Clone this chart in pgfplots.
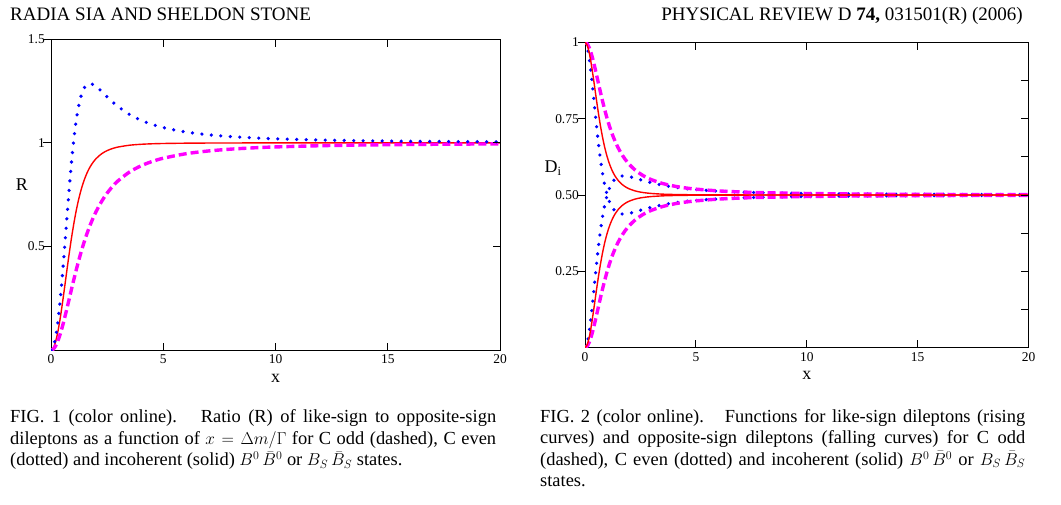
\documentclass[border=0pt]{standalone}
\usepackage{fontspec}
\setmainfont{Liberation Serif}
\usepackage{pgfplots}
\pgfplotsset{compat=1.18}
\usepackage{pgfplotstable}

\definecolor{cRed}{RGB}{255,0,0}
\definecolor{cMag}{RGB}{255,0,255}
\definecolor{cBlue}{RGB}{0,0,255}

% x, R (incoherent, C even, C odd), like-sign fraction (rising) and opposite-sign fraction (falling)
\pgfplotstableread{
x    RA     RB     RC     A      FA     B      FB     C      FC
0    0      0      0      0      1      0      1      0      1
0.1  0.0100 0.0150 0.0050 0.0099 0.9901 0.0148 0.9852 0.0050 0.9950
0.2  0.0392 0.0596 0.0196 0.0377 0.9623 0.0562 0.9438 0.0192 0.9808
0.3  0.0860 0.1325 0.0431 0.0792 0.9208 0.1170 0.8830 0.0413 0.9587
0.4  0.1473 0.2313 0.0741 0.1284 0.8716 0.1879 0.8121 0.0690 0.9310
0.5  0.2195 0.3514 0.1111 0.1800 0.8200 0.2600 0.7400 0.1000 0.9000
0.6  0.2981 0.4859 0.1525 0.2297 0.7703 0.3270 0.6730 0.1324 0.8676
0.7  0.3789 0.6264 0.1968 0.2748 0.7252 0.3851 0.6149 0.1644 0.8356
0.8  0.4579 0.7639 0.2424 0.3141 0.6859 0.4331 0.5669 0.1951 0.8049
0.9  0.5323 0.8904 0.2883 0.3474 0.6526 0.4710 0.5290 0.2238 0.7762
1.0  0.6000 1.0000 0.3333 0.3750 0.6250 0.5000 0.5000 0.2500 0.7500
1.1  0.6601 1.0899 0.3769 0.3976 0.6024 0.5215 0.4785 0.2738 0.7262
1.2  0.7124 1.1596 0.4186 0.4160 0.5840 0.5369 0.4631 0.2951 0.7049
1.3  0.7572 1.2108 0.4580 0.4309 0.5691 0.5477 0.4523 0.3141 0.6859
1.4  0.7951 1.2461 0.4949 0.4429 0.5571 0.5548 0.4452 0.3311 0.6689
1.5  0.8270 1.2685 0.5294 0.4527 0.5473 0.5592 0.4408 0.3462 0.6538
1.6  0.8537 1.2807 0.5614 0.4605 0.5395 0.5615 0.4385 0.3596 0.6404
1.7  0.8760 1.2855 0.5910 0.4670 0.5330 0.5624 0.4376 0.3715 0.6285
1.8  0.8946 1.2847 0.6183 0.4722 0.5278 0.5623 0.4377 0.3821 0.6179
1.9  0.9101 1.2800 0.6435 0.4765 0.5235 0.5614 0.4386 0.3915 0.6085
2.0  0.9231 1.2727 0.6667 0.4800 0.5200 0.5600 0.4400 0.4000 0.6000
2.2  0.9430 1.2538 0.7076 0.4853 0.5147 0.5563 0.4437 0.4144 0.5856
2.4  0.9572 1.2326 0.7423 0.4891 0.5109 0.5521 0.4479 0.4260 0.5740
2.6  0.9673 1.2115 0.7717 0.4917 0.5083 0.5478 0.4522 0.4356 0.5644
2.8  0.9747 1.1919 0.7967 0.4936 0.5064 0.5438 0.4562 0.4434 0.5566
3.0  0.9802 1.1739 0.8182 0.4950 0.5050 0.5400 0.4600 0.4500 0.5500
3.5  0.9887 1.1369 0.8596 0.4972 0.5028 0.5320 0.4680 0.4623 0.5377
4    0.9931 1.1095 0.8889 0.4983 0.5017 0.5260 0.4740 0.4706 0.5294
4.5  0.9956 1.0891 0.9101 0.4989 0.5011 0.5213 0.4787 0.4765 0.5235
5    0.9970 1.0736 0.9259 0.4993 0.5007 0.5178 0.4822 0.4808 0.5192
6    0.9985 1.0525 0.9474 0.4996 0.5004 0.5128 0.4872 0.4865 0.5135
7    0.9992 1.0392 0.9608 0.4998 0.5002 0.5096 0.4904 0.4900 0.5100
8    0.9995 1.0303 0.9697 0.4999 0.5001 0.5075 0.4925 0.4923 0.5077
9    0.9997 1.0241 0.9759 0.4999 0.5001 0.5059 0.4941 0.4939 0.5061
10   0.9998 1.0196 0.9804 0.5000 0.5000 0.5049 0.4951 0.4950 0.5050
12   0.9999 1.0137 0.9863 0.5000 0.5000 0.5034 0.4966 0.4966 0.5034
14   1.0000 1.0101 0.9899 0.5000 0.5000 0.5025 0.4975 0.4975 0.5025
16   1.0000 1.0078 0.9922 0.5000 0.5000 0.5019 0.4981 0.4981 0.5019
18   1.0000 1.0061 0.9939 0.5000 0.5000 0.5015 0.4985 0.4985 0.5015
20   1.0000 1.0050 0.9950 0.5000 0.5000 0.5012 0.4988 0.4988 0.5012
}\datatab

\pgfplotsset{
  base/.style={
    scale only axis, anchor=south west,
    xmin=0, xmax=20, xtick={0,5,10,15,20},
    axis line style={line width=0.9bp},
    tick style={line width=0.9bp, black},
    major tick length=7.5bp,
    xtick pos=both, ytick pos=left,
    xtick align=inside, ytick align=outside,
    tick label style={font=\fontsize{13.5}{13.5}\selectfont},
    /pgf/number format/assume math mode=true,
    xticklabel style={inner sep=4.5bp},
    yticklabel style={inner sep=1.5bp, xshift=3bp},
    xlabel={x},
    xlabel style={font=\fontsize{18}{18}\selectfont, at={(axis description cs:0.5,-0.092)}, anchor=center},
    ylabel style={font=\fontsize{18}{18}\selectfont, rotate=-90, anchor=center},
  },
  rticks/.style={
    scale only axis, anchor=south west, xmin=0, xmax=20,
    axis x line=none, axis y line*=right,
    axis line style={line width=0.9bp},
    tick style={line width=0.9bp, black},
    major tick length=7.5bp,
    ytick align=inside, yticklabels={},
  },
  redl/.style={cRed, line width=1.4bp, smooth},
  magl/.style={cMag, line width=3.4bp, dash pattern=on 8bp off 4bp, smooth},
  bluel/.style={cBlue, line width=3.6bp, line cap=round, dash pattern=on 0bp off 9.5bp, smooth},
}

\newcommand\capfont{\fontsize{18.5}{18.5}\selectfont}
\newcommand\headfont{\fontsize{19.1}{19.1}\selectfont}
\newcommand\BB{$B^0\,\bar{B}^0$}
\newcommand\BsBs{$B_S\,\bar{B}_S$}

\begin{document}
\begin{tikzpicture}
\useasboundingbox (0,0) rectangle (1061bp,-505bp);

% ---------- FIG. 1 ----------
\begin{axis}[base, at={(51bp,-350.2bp)}, width=449bp, height=311bp,
  ymin=0, ymax=1.5, ytick={0.5,1,1.5}, yticklabels={0.5,1,1.5},
  ylabel={R}, ylabel style={at={(axis description cs:-0.065,0.533)}}]
  \addplot[redl]  table[x=x, y=RA] {\datatab};
  \addplot[magl]  table[x=x, y=RC] {\datatab};
  \addplot[bluel] table[x=x, y=RB] {\datatab};
\end{axis}
\begin{axis}[rticks, at={(51bp,-350.2bp)}, width=449bp, height=311bp,
  ymin=0, ymax=1.5, ytick={0.5,1}]
\end{axis}

% ---------- FIG. 2 ----------
\begin{axis}[base, at={(585bp,-347.7bp)}, width=443.5bp, height=305.4bp,
  ymin=0, ymax=1, ytick={0.25,0.5,0.75,1}, yticklabels={0.25,0.50,0.75,1},
  ylabel={D\textsubscript{i}}, ylabel style={at={(axis description cs:-0.072,0.588)}}]
  \addplot[bluel] table[x=x, y=B]  {\datatab};
  \addplot[bluel] table[x=x, y=FB] {\datatab};
  \addplot[magl]  table[x=x, y=C]  {\datatab};
  \addplot[magl]  table[x=x, y=FC] {\datatab};
  \addplot[redl]  table[x=x, y=A]  {\datatab};
  \addplot[redl]  table[x=x, y=FA] {\datatab};
\end{axis}
\begin{axis}[rticks, at={(585bp,-347.7bp)}, width=443.5bp, height=305.4bp,
  ymin=0, ymax=1, ytick={0.125,0.25,0.375,0.5,0.625,0.75,0.875}]
\end{axis}

% ---------- running head ----------
\node[anchor=base west, inner sep=0, font=\headfont] at (10bp,-20.7bp) {RADIA SIA AND SHELDON STONE};
\node[anchor=base east, inner sep=0, font=\headfont] at (1023bp,-20.7bp) {PHYSICAL REVIEW D \textbf{74,} 031501(R) (2006)};

% ---------- captions ----------
\node[anchor=base west, inner sep=0, font=\capfont] at (10bp,-422.3bp) {\makebox[486bp][s]{FIG. 1 (color online).\hspace{0.5em} Ratio (R) of like-sign to opposite-sign}};
\node[anchor=base west, inner sep=0, font=\capfont] at (10bp,-444bp) {\makebox[486bp][s]{dileptons as a function of $x=\Delta m/\Gamma$ for C odd (dashed), C even}};
\node[anchor=base west, inner sep=0, font=\capfont] at (10bp,-465.5bp) {(dotted) and incoherent (solid) \BB{} or \BsBs{} states.};

\node[anchor=base west, inner sep=0, font=\capfont] at (540bp,-422.3bp) {\makebox[485bp][s]{FIG. 2 (color online).\hspace{0.5em} Functions for like-sign dileptons (rising}};
\node[anchor=base west, inner sep=0, font=\capfont] at (540bp,-443.8bp) {\makebox[485bp][s]{curves) and opposite-sign dileptons (falling curves) for C odd}};
\node[anchor=base west, inner sep=0, font=\capfont] at (540bp,-465.3bp) {\makebox[485bp][s]{(dashed), C even (dotted) and incoherent (solid) \BB{} or \BsBs}};
\node[anchor=base west, inner sep=0, font=\capfont] at (540bp,-486.8bp) {states.};
\end{tikzpicture}
\end{document}
